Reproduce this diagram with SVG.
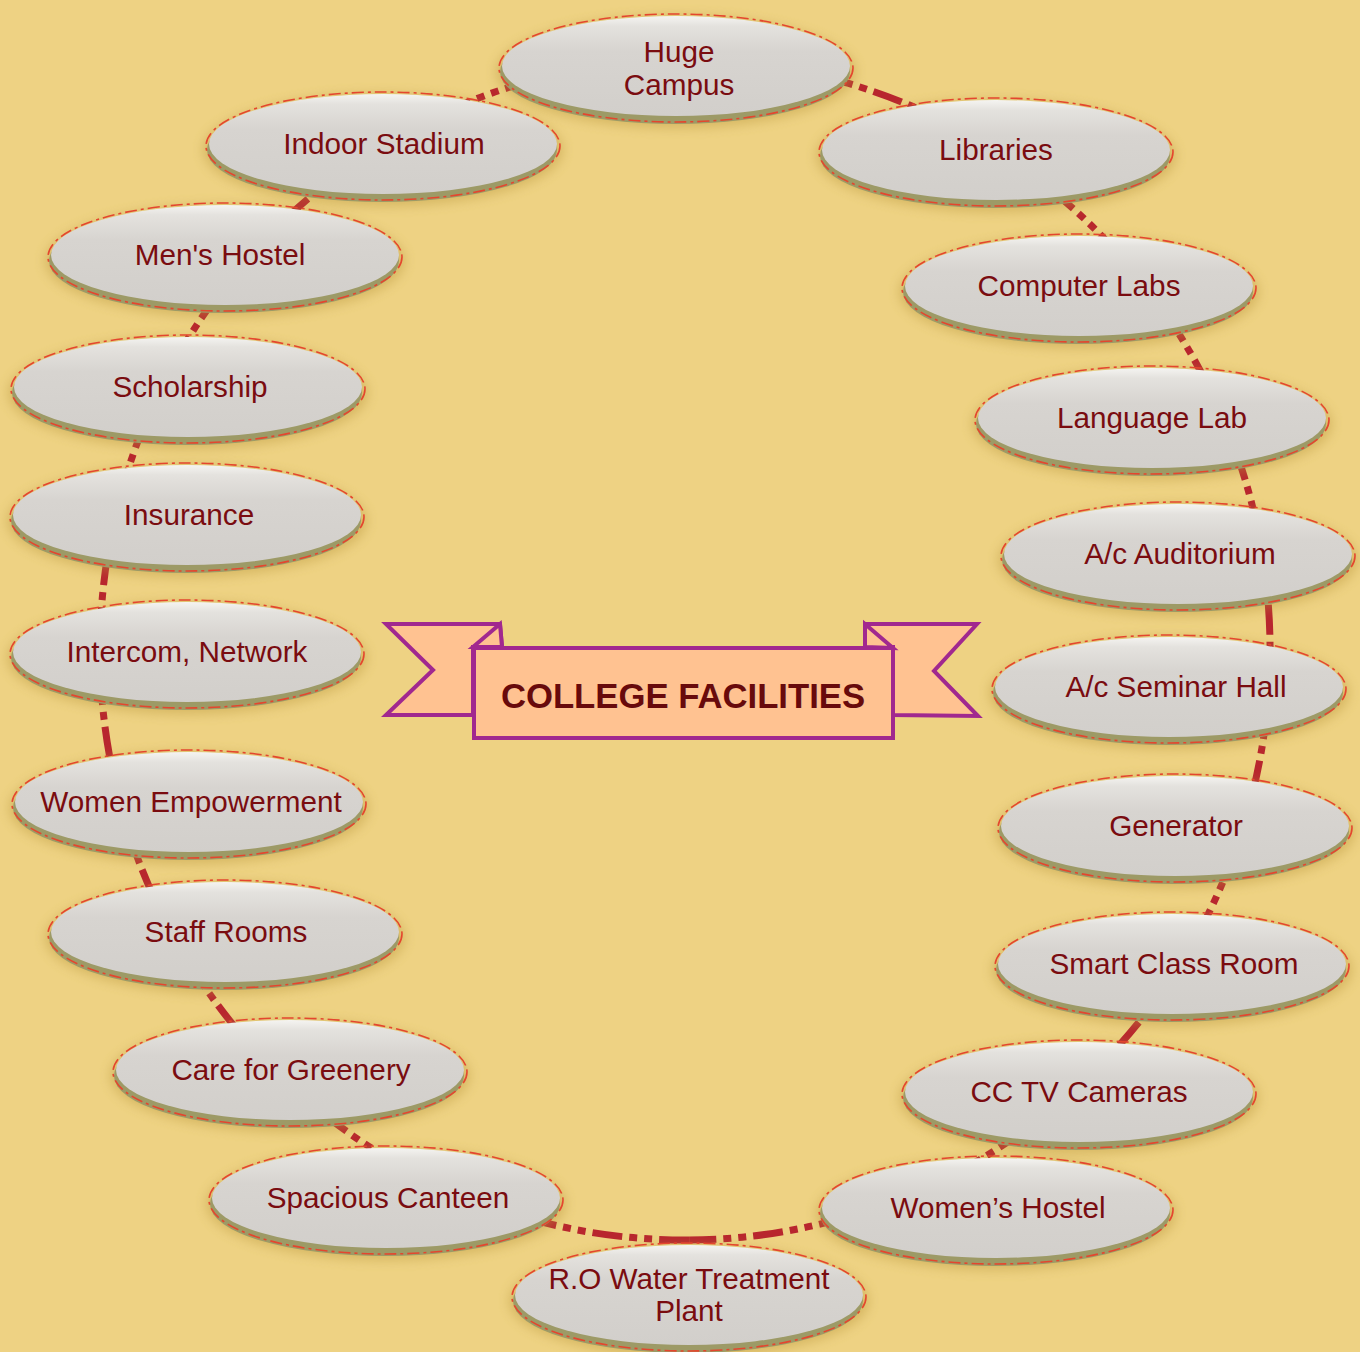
<svg xmlns="http://www.w3.org/2000/svg" width="1360" height="1352" viewBox="0 0 1360 1352">
<defs>
  <linearGradient id="face" x1="0" y1="0" x2="0" y2="1">
    <stop offset="0" stop-color="#f5f4f1"/>
    <stop offset="0.1" stop-color="#e4e2de"/>
    <stop offset="0.35" stop-color="#d7d4d0"/>
    <stop offset="1" stop-color="#d2cfcb"/>
  </linearGradient>
  <filter id="blur" x="-20%" y="-50%" width="140%" height="200%">
    <feGaussianBlur stdDeviation="6"/>
  </filter>
  <style>
    .conn { fill: none; stroke: #b8262e; stroke-width: 7; stroke-dasharray: 30 7 8 7 8 7; }
    .shadow { fill: #b8963a; opacity: 0.45; filter: url(#blur); }
    .rim { fill: #9d9a66; }
    .face { fill: url(#face); }
    .outline { fill: none; stroke: #e4462e; stroke-width: 1.6; stroke-dasharray: 12 4 3 4; }
    .label { font-family: "Liberation Sans", Arial, sans-serif; font-size: 29.7px; fill: #7a0c10; text-anchor: middle; }
    .banner { fill: #ffc291; stroke: #a1288f; stroke-width: 4; stroke-linejoin: miter; }
    .title { font-family: "Liberation Sans", Arial, sans-serif; font-size: 34.7px; font-weight: bold; fill: #680a0c; text-anchor: middle; }
  </style>
</defs>
<rect width="1360" height="1352" fill="#eed283"/>

<g id="connectors">
  <path class="conn" d="M675.9,60.1 A585,590 0 0 1 995.9,150.2"/>
  <path class="conn" d="M995.9,150.2 A585,590 0 0 1 1116.3,251.4"/>
  <path class="conn" d="M1116.3,251.4 A585,590 0 0 1 1209.9,389.5"/>
  <path class="conn" d="M1209.9,389.5 A585,590 0 0 1 1259.5,538.4"/>
  <path class="conn" d="M1259.5,538.4 A585,590 0 0 1 1268.4,694.2"/>
  <path class="conn" d="M1268.4,694.2 A585,590 0 0 1 1236.1,847.9"/>
  <path class="conn" d="M1236.1,847.9 A585,590 0 0 1 1177.9,967.9"/>
  <path class="conn" d="M1177.9,967.9 A585,590 0 0 1 1076.4,1088.4"/>
  <path class="conn" d="M1076.4,1088.4 A585,590 0 0 1 971.3,1164.5"/>
  <path class="conn" d="M971.3,1164.5 A585,590 0 0 1 689.1,1240"/>
  <path class="conn" d="M689.1,1240 A585,590 0 0 1 403.1,1167"/>
  <path class="conn" d="M403.1,1167 A585,590 0 0 1 282.3,1078"/>
  <path class="conn" d="M282.3,1078 A585,590 0 0 1 185.1,956.5"/>
  <path class="conn" d="M185.1,956.5 A585,590 0 0 1 125.3,821.5"/>
  <path class="conn" d="M125.3,821.5 A585,590 0 0 1 100,652.1"/>
  <path class="conn" d="M100,652.1 A585,590 0 0 1 120,497.3"/>
  <path class="conn" d="M120,497.3 A585,590 0 0 1 167,375.8"/>
  <path class="conn" d="M167,375.8 A585,590 0 0 1 239.5,267.6"/>
  <path class="conn" d="M239.5,267.6 A585,590 0 0 1 383.7,144.3"/>
  <path class="conn" d="M383.7,144.3 A585,590 0 0 1 675.9,60.1"/>
</g>

<g id="node-huge-campus">
  <ellipse class="shadow" cx="676" cy="72" rx="180" ry="56"/>
  <ellipse class="rim" cx="675" cy="72" rx="175" ry="52"/>
  <ellipse class="face" cx="676" cy="66" rx="174" ry="50"/>
  <ellipse class="outline" cx="676" cy="68" rx="177" ry="54"/>
  <text class="label" x="679" y="62">Huge</text>
  <text class="label" x="679" y="95">Campus</text>
</g>
<g id="node-libraries">
  <ellipse class="shadow" cx="996" cy="156" rx="180" ry="56"/>
  <ellipse class="rim" cx="995" cy="156" rx="175" ry="52"/>
  <ellipse class="face" cx="996" cy="150" rx="174" ry="50"/>
  <ellipse class="outline" cx="996" cy="152" rx="177" ry="54"/>
  <text class="label" x="996" y="160">Libraries</text>
</g>
<g id="node-computer-labs">
  <ellipse class="shadow" cx="1079" cy="292" rx="180" ry="56"/>
  <ellipse class="rim" cx="1078" cy="292" rx="175" ry="52"/>
  <ellipse class="face" cx="1079" cy="286" rx="174" ry="50"/>
  <ellipse class="outline" cx="1079" cy="288" rx="177" ry="54"/>
  <text class="label" x="1079" y="296">Computer Labs</text>
</g>
<g id="node-language-lab">
  <ellipse class="shadow" cx="1152" cy="424" rx="180" ry="56"/>
  <ellipse class="rim" cx="1151" cy="424" rx="175" ry="52"/>
  <ellipse class="face" cx="1152" cy="418" rx="174" ry="50"/>
  <ellipse class="outline" cx="1152" cy="420" rx="177" ry="54"/>
  <text class="label" x="1152" y="428">Language Lab</text>
</g>
<g id="node-ac-auditorium">
  <ellipse class="shadow" cx="1178" cy="560" rx="180" ry="56"/>
  <ellipse class="rim" cx="1177" cy="560" rx="175" ry="52"/>
  <ellipse class="face" cx="1178" cy="554" rx="174" ry="50"/>
  <ellipse class="outline" cx="1178" cy="556" rx="177" ry="54"/>
  <text class="label" x="1180" y="564">A/c Auditorium</text>
</g>
<g id="node-ac-seminar-hall">
  <ellipse class="shadow" cx="1169" cy="693" rx="180" ry="56"/>
  <ellipse class="rim" cx="1168" cy="693" rx="175" ry="52"/>
  <ellipse class="face" cx="1169" cy="687" rx="174" ry="50"/>
  <ellipse class="outline" cx="1169" cy="689" rx="177" ry="54"/>
  <text class="label" x="1176" y="697">A/c Seminar Hall</text>
</g>
<g id="node-generator">
  <ellipse class="shadow" cx="1175" cy="832" rx="180" ry="56"/>
  <ellipse class="rim" cx="1174" cy="832" rx="175" ry="52"/>
  <ellipse class="face" cx="1175" cy="826" rx="174" ry="50"/>
  <ellipse class="outline" cx="1175" cy="828" rx="177" ry="54"/>
  <text class="label" x="1176" y="836">Generator</text>
</g>
<g id="node-smart-class-room">
  <ellipse class="shadow" cx="1172" cy="970" rx="180" ry="56"/>
  <ellipse class="rim" cx="1171" cy="970" rx="175" ry="52"/>
  <ellipse class="face" cx="1172" cy="964" rx="174" ry="50"/>
  <ellipse class="outline" cx="1172" cy="966" rx="177" ry="54"/>
  <text class="label" x="1174" y="974">Smart Class Room</text>
</g>
<g id="node-cctv-cameras">
  <ellipse class="shadow" cx="1079" cy="1098" rx="180" ry="56"/>
  <ellipse class="rim" cx="1078" cy="1098" rx="175" ry="52"/>
  <ellipse class="face" cx="1079" cy="1092" rx="174" ry="50"/>
  <ellipse class="outline" cx="1079" cy="1094" rx="177" ry="54"/>
  <text class="label" x="1079" y="1102">CC TV Cameras</text>
</g>
<g id="node-womens-hostel">
  <ellipse class="shadow" cx="996" cy="1214" rx="180" ry="56"/>
  <ellipse class="rim" cx="995" cy="1214" rx="175" ry="52"/>
  <ellipse class="face" cx="996" cy="1208" rx="174" ry="50"/>
  <ellipse class="outline" cx="996" cy="1210" rx="177" ry="54"/>
  <text class="label" x="998" y="1218">Women’s Hostel</text>
</g>
<g id="node-ro-water-plant">
  <ellipse class="shadow" cx="689" cy="1301" rx="180" ry="56"/>
  <ellipse class="rim" cx="688" cy="1301" rx="175" ry="52"/>
  <ellipse class="face" cx="689" cy="1295" rx="174" ry="50"/>
  <ellipse class="outline" cx="689" cy="1297" rx="177" ry="54"/>
  <text class="label" x="689" y="1289">R.O Water Treatment</text>
  <text class="label" x="689" y="1321">Plant</text>
</g>
<g id="node-spacious-canteen">
  <ellipse class="shadow" cx="386" cy="1204" rx="180" ry="56"/>
  <ellipse class="rim" cx="385" cy="1204" rx="175" ry="52"/>
  <ellipse class="face" cx="386" cy="1198" rx="174" ry="50"/>
  <ellipse class="outline" cx="386" cy="1200" rx="177" ry="54"/>
  <text class="label" x="388" y="1208">Spacious Canteen</text>
</g>
<g id="node-care-for-greenery">
  <ellipse class="shadow" cx="290" cy="1076" rx="180" ry="56"/>
  <ellipse class="rim" cx="289" cy="1076" rx="175" ry="52"/>
  <ellipse class="face" cx="290" cy="1070" rx="174" ry="50"/>
  <ellipse class="outline" cx="290" cy="1072" rx="177" ry="54"/>
  <text class="label" x="291" y="1080">Care for Greenery</text>
</g>
<g id="node-staff-rooms">
  <ellipse class="shadow" cx="225" cy="938" rx="180" ry="56"/>
  <ellipse class="rim" cx="224" cy="938" rx="175" ry="52"/>
  <ellipse class="face" cx="225" cy="932" rx="174" ry="50"/>
  <ellipse class="outline" cx="225" cy="934" rx="177" ry="54"/>
  <text class="label" x="226" y="942">Staff Rooms</text>
</g>
<g id="node-women-empowerment">
  <ellipse class="shadow" cx="189" cy="808" rx="180" ry="56"/>
  <ellipse class="rim" cx="188" cy="808" rx="175" ry="52"/>
  <ellipse class="face" cx="189" cy="802" rx="174" ry="50"/>
  <ellipse class="outline" cx="189" cy="804" rx="177" ry="54"/>
  <text class="label" x="191" y="812">Women Empowerment</text>
</g>
<g id="node-intercom-network">
  <ellipse class="shadow" cx="187" cy="658" rx="180" ry="56"/>
  <ellipse class="rim" cx="186" cy="658" rx="175" ry="52"/>
  <ellipse class="face" cx="187" cy="652" rx="174" ry="50"/>
  <ellipse class="outline" cx="187" cy="654" rx="177" ry="54"/>
  <text class="label" x="187" y="662">Intercom, Network</text>
</g>
<g id="node-insurance">
  <ellipse class="shadow" cx="187" cy="521" rx="180" ry="56"/>
  <ellipse class="rim" cx="186" cy="521" rx="175" ry="52"/>
  <ellipse class="face" cx="187" cy="515" rx="174" ry="50"/>
  <ellipse class="outline" cx="187" cy="517" rx="177" ry="54"/>
  <text class="label" x="189" y="525">Insurance</text>
</g>
<g id="node-scholarship">
  <ellipse class="shadow" cx="188" cy="393" rx="180" ry="56"/>
  <ellipse class="rim" cx="187" cy="393" rx="175" ry="52"/>
  <ellipse class="face" cx="188" cy="387" rx="174" ry="50"/>
  <ellipse class="outline" cx="188" cy="389" rx="177" ry="54"/>
  <text class="label" x="190" y="397">Scholarship</text>
</g>
<g id="node-mens-hostel">
  <ellipse class="shadow" cx="225" cy="261" rx="180" ry="56"/>
  <ellipse class="rim" cx="224" cy="261" rx="175" ry="52"/>
  <ellipse class="face" cx="225" cy="255" rx="174" ry="50"/>
  <ellipse class="outline" cx="225" cy="257" rx="177" ry="54"/>
  <text class="label" x="220" y="265">Men's Hostel</text>
</g>
<g id="node-indoor-stadium">
  <ellipse class="shadow" cx="383" cy="150" rx="180" ry="56"/>
  <ellipse class="rim" cx="382" cy="150" rx="175" ry="52"/>
  <ellipse class="face" cx="383" cy="144" rx="174" ry="50"/>
  <ellipse class="outline" cx="383" cy="146" rx="177" ry="54"/>
  <text class="label" x="384" y="154">Indoor Stadium</text>
</g>

<g id="title-banner">
  <polygon class="banner" points="386,624 500,624 502,647 473,647 473,715 386,715 433,670"/>
  <polygon class="banner" points="473,647 500,624 502,647"/>
  <polygon class="banner" points="977,624 865,624 865,647 893,647 893,715 978,716 934,671"/>
  <polygon class="banner" points="865,624 893,648 865,647"/>
  <rect class="banner" x="474" y="648" width="419" height="90"/>
  <text class="title" x="683" y="708">COLLEGE FACILITIES</text>
</g>
</svg>
